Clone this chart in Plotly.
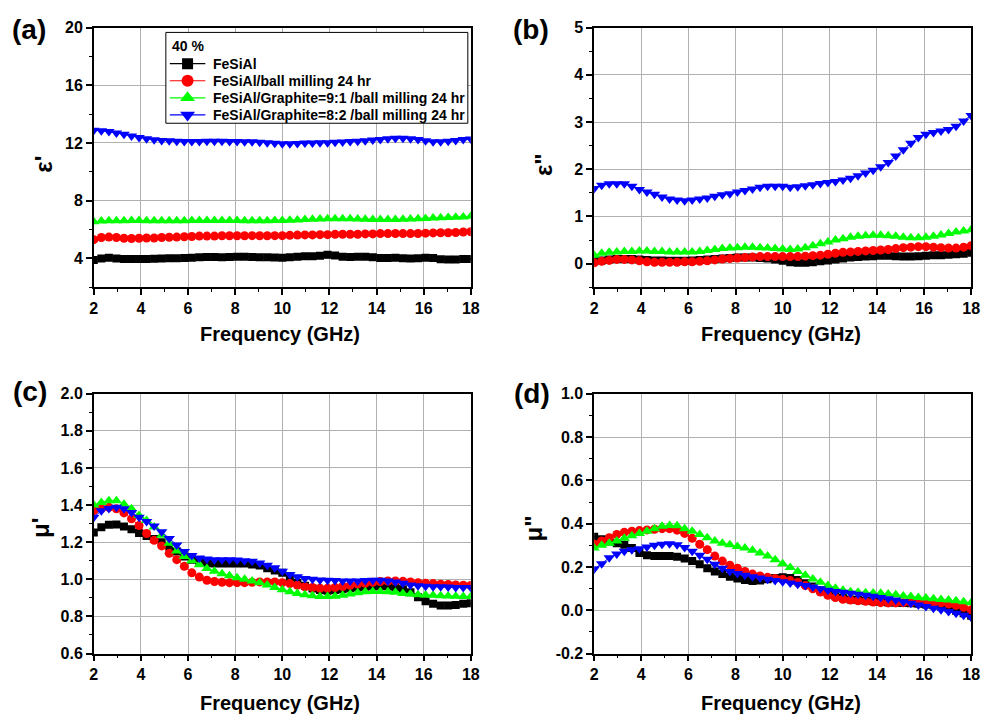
import plotly.graph_objects as go

freq = [2.00, 2.32, 2.64, 2.96, 3.28, 3.60, 3.92, 4.24, 4.56, 4.88, 5.20, 5.52, 5.84, 6.16, 6.48, 6.80,
        7.12, 7.44, 7.76, 8.08, 8.40, 8.72, 9.04, 9.36, 9.68, 10.00, 10.32, 10.64, 10.96, 11.28, 11.60,
        11.92, 12.24, 12.56, 12.88, 13.20, 13.52, 13.84, 14.16, 14.48, 14.80, 15.12, 15.44, 15.76, 16.08,
        16.40, 16.72, 17.04, 17.36, 17.68, 18.00]

series_names = ["FeSiAl", "FeSiAl/ball milling 24 hr",
                "FeSiAl/Graphite=9:1 /ball milling 24 hr",
                "FeSiAl/Graphite=8:2 /ball milling 24 hr"]
legend_title = "40 %"

# (a) epsilon'
eps1_fesial = [3.9, 4.0, 4.05, 4.0, 3.97, 3.97, 3.97, 3.97, 3.98, 4.0, 4.02, 4.02, 4.03, 4.05, 4.08, 4.1,
               4.1, 4.08, 4.1, 4.12, 4.12, 4.1, 4.08, 4.08, 4.07, 4.05, 4.08, 4.12, 4.15, 4.15, 4.18,
               4.25, 4.2, 4.12, 4.1, 4.12, 4.12, 4.08, 4.03, 4.03, 4.05, 4.02, 4.0, 4.02, 4.05,
               4.03, 3.95, 3.92, 3.92, 3.97, 3.97]
eps1_ball = [5.3, 5.45, 5.48, 5.45, 5.4, 5.38, 5.4, 5.42, 5.42, 5.45, 5.47, 5.48, 5.5, 5.52, 5.55, 5.55,
             5.55, 5.57, 5.57, 5.57, 5.57, 5.58, 5.57, 5.57, 5.58, 5.58, 5.6, 5.62, 5.63, 5.63, 5.65,
             5.65, 5.67, 5.68, 5.68, 5.68, 5.7, 5.7, 5.72, 5.72, 5.73, 5.72, 5.72, 5.73, 5.75,
             5.77, 5.78, 5.78, 5.8, 5.83, 5.85]
eps1_g91 = [6.55, 6.6, 6.62, 6.62, 6.62, 6.63, 6.63, 6.62, 6.62, 6.62, 6.62, 6.62, 6.62, 6.63, 6.63, 6.63,
            6.63, 6.63, 6.63, 6.63, 6.62, 6.62, 6.62, 6.62, 6.63, 6.63, 6.65, 6.67, 6.7, 6.72, 6.74,
            6.75, 6.75, 6.75, 6.75, 6.73, 6.72, 6.7, 6.7, 6.7, 6.7, 6.72, 6.73, 6.75, 6.77,
            6.8, 6.82, 6.83, 6.85, 6.88, 6.92]
eps1_g82 = [12.88, 12.85, 12.8, 12.7, 12.6, 12.48, 12.38, 12.3, 12.22, 12.18, 12.15, 12.12, 12.1, 12.1, 12.1, 12.12,
            12.12, 12.12, 12.1, 12.1, 12.08, 12.08, 12.05, 12.02, 11.98, 11.95, 11.95, 11.97, 12.0, 12.0, 12.02,
            12.02, 12.05, 12.07, 12.1, 12.12, 12.15, 12.2, 12.25, 12.3, 12.33, 12.33, 12.3, 12.25, 12.15,
            12.08, 12.08, 12.12, 12.18, 12.25, 12.28]

# (b) epsilon''
eps2_fesial = [0.05, 0.07, 0.09, 0.1, 0.1, 0.1, 0.09, 0.08, 0.07, 0.07, 0.06, 0.06, 0.06, 0.07, 0.08, 0.09,
               0.1, 0.11, 0.12, 0.13, 0.13, 0.13, 0.12, 0.11, 0.09, 0.06, 0.03, 0.02, 0.02, 0.03, 0.05,
               0.07, 0.09, 0.11, 0.13, 0.14, 0.15, 0.16, 0.17, 0.17, 0.16, 0.15, 0.15, 0.16, 0.17,
               0.18, 0.18, 0.19, 0.2, 0.21, 0.23]
eps2_ball = [0.02, 0.05, 0.07, 0.09, 0.09, 0.08, 0.06, 0.04, 0.03, 0.03, 0.03, 0.03, 0.04, 0.04, 0.05, 0.06,
             0.08, 0.10, 0.11, 0.12, 0.13, 0.14, 0.15, 0.15, 0.15, 0.15, 0.15, 0.15, 0.16, 0.17, 0.18,
             0.20, 0.22, 0.24, 0.25, 0.26, 0.27, 0.28, 0.29, 0.30, 0.32, 0.34, 0.35, 0.36, 0.36,
             0.35, 0.34, 0.33, 0.33, 0.35, 0.38]
eps2_g91 = [0.18, 0.22, 0.24, 0.25, 0.26, 0.26, 0.27, 0.27, 0.26, 0.26, 0.25, 0.25, 0.25, 0.25, 0.26, 0.28,
            0.3, 0.32, 0.33, 0.34, 0.35, 0.35, 0.34, 0.33, 0.32, 0.31, 0.3, 0.31, 0.34, 0.38, 0.42,
            0.46, 0.5, 0.53, 0.56, 0.58, 0.59, 0.6, 0.6, 0.59, 0.58, 0.56, 0.55, 0.55, 0.56,
            0.58, 0.61, 0.64, 0.67, 0.69, 0.72]
eps2_g82 = [1.59, 1.66, 1.69, 1.69, 1.69, 1.64, 1.57, 1.52, 1.47, 1.41, 1.37, 1.35, 1.33, 1.35, 1.37, 1.39,
            1.43, 1.46, 1.48, 1.52, 1.55, 1.58, 1.62, 1.64, 1.64, 1.64, 1.62, 1.63, 1.65, 1.67, 1.70,
            1.72, 1.74, 1.77, 1.81, 1.86, 1.92, 1.98, 2.05, 2.14, 2.28, 2.41, 2.55, 2.67, 2.74,
            2.78, 2.81, 2.84, 2.91, 3.02, 3.14]

# (c) mu'
mu1_fesial = [1.252, 1.28, 1.294, 1.296, 1.285, 1.27, 1.25, 1.233, 1.217, 1.2, 1.176, 1.15, 1.123, 1.106, 1.093, 1.088,
              1.085, 1.085, 1.085, 1.085, 1.085, 1.08, 1.074, 1.06, 1.048, 1.035, 1.012, 0.982, 0.965, 0.951, 0.942,
              0.938, 0.942, 0.947, 0.952, 0.956, 0.96, 0.962, 0.963, 0.962, 0.956, 0.947, 0.93, 0.903, 0.882,
              0.868, 0.859, 0.859, 0.862, 0.868, 0.871]
mu1_ball = [1.37, 1.38, 1.388, 1.38, 1.358, 1.326, 1.29, 1.247, 1.21, 1.18, 1.14, 1.106, 1.07, 1.035, 1.012, 0.995,
            0.988, 0.984, 0.982, 0.982, 0.982, 0.984, 0.986, 0.986, 0.986, 0.982, 0.977, 0.968, 0.96, 0.956, 0.952,
            0.952, 0.956, 0.961, 0.968, 0.974, 0.979, 0.984, 0.988, 0.991, 0.991, 0.989, 0.986, 0.982, 0.979,
            0.977, 0.974, 0.972, 0.97, 0.968, 0.967]
mu1_g91 = [1.4, 1.414, 1.423, 1.423, 1.405, 1.38, 1.344, 1.317, 1.282, 1.238, 1.194, 1.153, 1.123, 1.1, 1.079, 1.058,
           1.044, 1.03, 1.019, 1.009, 1.0, 0.991, 0.982, 0.97, 0.956, 0.944, 0.933, 0.924, 0.917, 0.912, 0.907,
           0.907, 0.909, 0.914, 0.921, 0.928, 0.933, 0.935, 0.935, 0.933, 0.93, 0.924, 0.921, 0.917, 0.915,
           0.914, 0.912, 0.91, 0.909, 0.907, 0.907]
mu1_g82 = [1.335, 1.37, 1.382, 1.388, 1.38, 1.36, 1.335, 1.312, 1.287, 1.256, 1.22, 1.185, 1.15, 1.129, 1.115, 1.109,
           1.106, 1.106, 1.106, 1.104, 1.1, 1.097, 1.088, 1.076, 1.062, 1.044, 1.026, 1.014, 1.005, 1.0, 0.996,
           0.995, 0.993, 0.991, 0.991, 0.991, 0.993, 0.995, 0.995, 0.991, 0.986, 0.979, 0.97, 0.965, 0.963,
           0.96, 0.96, 0.958, 0.956, 0.956, 0.956]

# (d) mu''
mu2_fesial = [0.34, 0.328, 0.317, 0.31, 0.302, 0.287, 0.265, 0.254, 0.251, 0.25, 0.25, 0.247, 0.239, 0.227, 0.212, 0.194,
              0.179, 0.167, 0.155, 0.147, 0.14, 0.135, 0.137, 0.143, 0.149, 0.152, 0.149, 0.14, 0.125, 0.11, 0.092,
              0.077, 0.065, 0.056, 0.05, 0.047, 0.044, 0.041, 0.038, 0.036, 0.035, 0.034, 0.032, 0.03, 0.027,
              0.023, 0.017, 0.009, -0.002, -0.014, -0.026]
mu2_ball = [0.305, 0.32, 0.335, 0.35, 0.36, 0.365, 0.368, 0.371, 0.374, 0.377, 0.377, 0.37, 0.355, 0.332, 0.305, 0.28,
            0.25, 0.227, 0.208, 0.194, 0.179, 0.167, 0.158, 0.152, 0.147, 0.143, 0.137, 0.128, 0.114, 0.099, 0.084,
            0.069, 0.059, 0.051, 0.047, 0.044, 0.041, 0.038, 0.035, 0.034, 0.034, 0.035, 0.036, 0.038, 0.038,
            0.036, 0.034, 0.029, 0.023, 0.014, 0.002]
mu2_g91 = [0.287, 0.3, 0.31, 0.32, 0.332, 0.344, 0.355, 0.365, 0.377, 0.388, 0.392, 0.39, 0.377, 0.365, 0.35, 0.335,
           0.32, 0.31, 0.302, 0.295, 0.287, 0.277, 0.265, 0.25, 0.233, 0.215, 0.197, 0.179, 0.162, 0.144, 0.129,
           0.114, 0.102, 0.092, 0.086, 0.083, 0.081, 0.08, 0.078, 0.075, 0.071, 0.066, 0.063, 0.059, 0.056,
           0.053, 0.05, 0.047, 0.044, 0.039, 0.035]
mu2_g82 = [0.19, 0.215, 0.242, 0.26, 0.272, 0.28, 0.284, 0.292, 0.3, 0.305, 0.307, 0.302, 0.29, 0.272, 0.254, 0.235,
           0.212, 0.194, 0.179, 0.17, 0.162, 0.155, 0.149, 0.143, 0.137, 0.132, 0.126, 0.12, 0.114, 0.107, 0.099,
           0.092, 0.087, 0.083, 0.078, 0.074, 0.069, 0.065, 0.059, 0.053, 0.047, 0.039, 0.032, 0.024, 0.017,
           0.009, 0.002, -0.006, -0.014, -0.023, -0.032]

colors = ["#000000", "#ff0000", "#00ff00", "#0000ff"]
symbols = ["square", "circle", "triangle-up", "triangle-down"]
msizes = [8, 9, 10, 10]

panels = [
    ([eps1_fesial, eps1_ball, eps1_g91, eps1_g82], "x", "y"),
    ([eps2_fesial, eps2_ball, eps2_g91, eps2_g82], "x2", "y2"),
    ([mu1_fesial, mu1_ball, mu1_g91, mu1_g82], "x3", "y3"),
    ([mu2_fesial, mu2_ball, mu2_g91, mu2_g82], "x4", "y4"),
]

FONT = "Liberation Sans, Arial, sans-serif"
W, H = 992, 727

# panel pixel frames
A_L, A_R, A_T, A_B = 91, 473, 20, 286
B_L, B_R = 598, 980
C_T, C_B = 395, 661
A_XR, A_YR = (2, 18), (2, 20)

fig = go.Figure()
for pi, (data, xa, ya) in enumerate(panels):
    for si in range(4):
        fig.add_trace(go.Scatter(
            x=freq, y=data[si], xaxis=xa, yaxis=ya, mode="lines+markers",
            name=series_names[si], showlegend=False,
            line=dict(color=colors[si], width=1),
            marker=dict(symbol=symbols[si], size=msizes[si], color=colors[si], line=dict(width=0)),
        ))

# ---- hand-drawn legend box inside panel (a), positioned in pixels ----
def px2a(px, py):
    return (A_XR[0] + (px - A_L) / (A_R - A_L) * (A_XR[1] - A_XR[0]),
            A_YR[1] - (py - A_T) / (A_B - A_T) * (A_YR[1] - A_YR[0]))

LEG_L, LEG_T, LEG_R, LEG_B = 164, 25, 470, 118
LEG_ROW_Y = [57, 74.5, 92, 109.5]
LEG_SYM_X = [168, 186, 204]
LEG_TEXT_X = 210

(bx0, by0), (bx1, by1) = px2a(LEG_L, LEG_B), px2a(LEG_R, LEG_T)
fig.add_shape(type="rect", xref="x", yref="y", x0=bx0, x1=bx1, y0=by0, y1=by1,
              line=dict(color="black", width=1), fillcolor="white", layer="between")
for si in range(4):
    pts = [px2a(px, LEG_ROW_Y[si]) for px in LEG_SYM_X]
    fig.add_trace(go.Scatter(
        x=[p[0] for p in pts], y=[p[1] for p in pts], xaxis="x", yaxis="y",
        mode="lines+markers", showlegend=False, hoverinfo="skip",
        line=dict(color=colors[si], width=1.2),
        marker=dict(symbol=symbols[si], size=[0, msizes[si] + 3, 0], color=colors[si],
                    line=dict(width=0), opacity=1),
    ))

def xd(a, b):
    return [a / W, b / W]
def yd(top, bot):
    return [1 - bot / H, 1 - top / H]

tickfont = dict(family=FONT, size=16, color="black", weight="bold")

def xax(dom, anchor):
    return dict(range=list(A_XR), dtick=2, tick0=2, showline=True, linecolor="black", linewidth=1.5,
                mirror=True, ticks="outside", ticklen=6, tickwidth=1.5, tickcolor="black",
                showgrid=True, gridcolor="#b0b0b0", gridwidth=1.2, zeroline=False,
                tickfont=tickfont, domain=dom, anchor=anchor,
                minor=dict(dtick=1, tick0=2, ticks="outside", ticklen=3, tickcolor="black", tickwidth=1.2, showgrid=False))

def yax(rng, dtick, mdtick, dom, anchor, tickvals=None, ticktext=None, fmt=None):
    d = dict(range=list(rng), dtick=dtick, tick0=0, showline=True, linecolor="black", linewidth=1.5,
             mirror=True, ticks="outside", ticklen=6, tickwidth=1.5, tickcolor="black",
             showgrid=True, gridcolor="#b0b0b0", gridwidth=1.2, zeroline=False,
             tickfont=tickfont, domain=dom, anchor=anchor,
             minor=dict(dtick=mdtick, ticks="outside", ticklen=3, tickcolor="black", tickwidth=1.2, showgrid=False))
    if tickvals is not None:
        d["tickmode"] = "array"
        d["tickvals"] = tickvals
        d["ticktext"] = ticktext
    if fmt:
        d["tickformat"] = fmt
    return d

top_row = yd(A_T, A_B)
bot_row = yd(C_T, C_B)
left_col = xd(A_L, A_R)
right_col = xd(B_L, B_R)

y_specs = [((2, 20), 4, 2, top_row), ((-0.5, 5), 1, 0.5, top_row),
           ((0.6, 2.0), 0.2, 0.1, bot_row), ((-0.2, 1.0), 0.2, 0.1, bot_row)]
x_doms = [left_col, right_col, left_col, right_col]

layout_axes = dict(
    xaxis=xax(left_col, "y"),
    xaxis2=xax(right_col, "y2"),
    xaxis3=xax(left_col, "y3"),
    xaxis4=xax(right_col, "y4"),
    yaxis=yax(A_YR, 4, 2, top_row, "x"),
    yaxis2=yax((-0.5, 5), 1, 0.5, top_row, "x2"),
    yaxis3=yax((0.6, 2.0), 0.2, 0.1, bot_row, "x3", fmt=".1f"),
    yaxis4=yax((-0.2, 1.0), 0.2, 0.1, bot_row, "x4",
               tickvals=[-0.2, 0.0, 0.2, 0.4, 0.6, 0.8, 1.0],
               ticktext=["-0.2", "0.0", "0.2", "0.4", "0.6", "0.8", "1.0"]),
)

# inward ticks on the top and right frame edges (Origin style)
for i in range(4):
    base = "" if i == 0 else str(i + 1)
    rng, dt, mdt, _ = y_specs[i]
    layout_axes["xaxis%d" % (5 + i)] = dict(
        overlaying="x" + base, side="top", anchor="y" + base, range=list(A_XR),
        dtick=2, tick0=2, ticks="inside", ticklen=5, tickwidth=1.2, tickcolor="black",
        showticklabels=False, showgrid=False, showline=False, zeroline=False,
        minor=dict(dtick=1, tick0=2, ticks="inside", ticklen=3, tickcolor="black", tickwidth=1.2, showgrid=False))
    layout_axes["yaxis%d" % (5 + i)] = dict(
        overlaying="y" + base, side="right", anchor="x" + base, range=list(rng),
        dtick=dt, tick0=0, ticks="inside", ticklen=5, tickwidth=1.2, tickcolor="black",
        showticklabels=False, showgrid=False, showline=False, zeroline=False,
        minor=dict(dtick=mdt, ticks="inside", ticklen=3, tickcolor="black", tickwidth=1.2, showgrid=False))

fig.update_layout(
    width=W, height=H, margin=dict(l=0, r=0, t=0, b=0),
    paper_bgcolor="white", plot_bgcolor="white",
    font=dict(family=FONT, color="black"),
    showlegend=False,
    **layout_axes,
)

ann = []
def label(text, x, y, size, angle=0, xanchor="center"):
    ann.append(dict(text=text, x=x / W, y=1 - y / H, xref="paper", yref="paper",
                    showarrow=False, textangle=angle, xanchor=xanchor, yanchor="middle",
                    font=dict(family=FONT, size=size, color="black", weight="bold")))

label("(a)", 25, 22, 28)
label("(b)", 534, 22, 28)
label("(c)", 26, 393, 28)
label("(d)", 535, 395, 28)
label("ε'", 40, 160, 24, -90)
label('ε"', 546, 160, 24, -90)
label("μ'", 37, 533, 24, -90)
label('μ"', 537, 533, 24, -90)
for cx, cy in [(280, 334), (787, 334), (280, 712), (787, 712)]:
    label("Frequency (GHz)", cx, cy, 20)
label(legend_title, 168, 39, 14, xanchor="left")
for si in range(4):
    label(series_names[si], LEG_TEXT_X, LEG_ROW_Y[si], 14, xanchor="left")
fig.update_layout(annotations=ann)

fig.write_html("out.html")
